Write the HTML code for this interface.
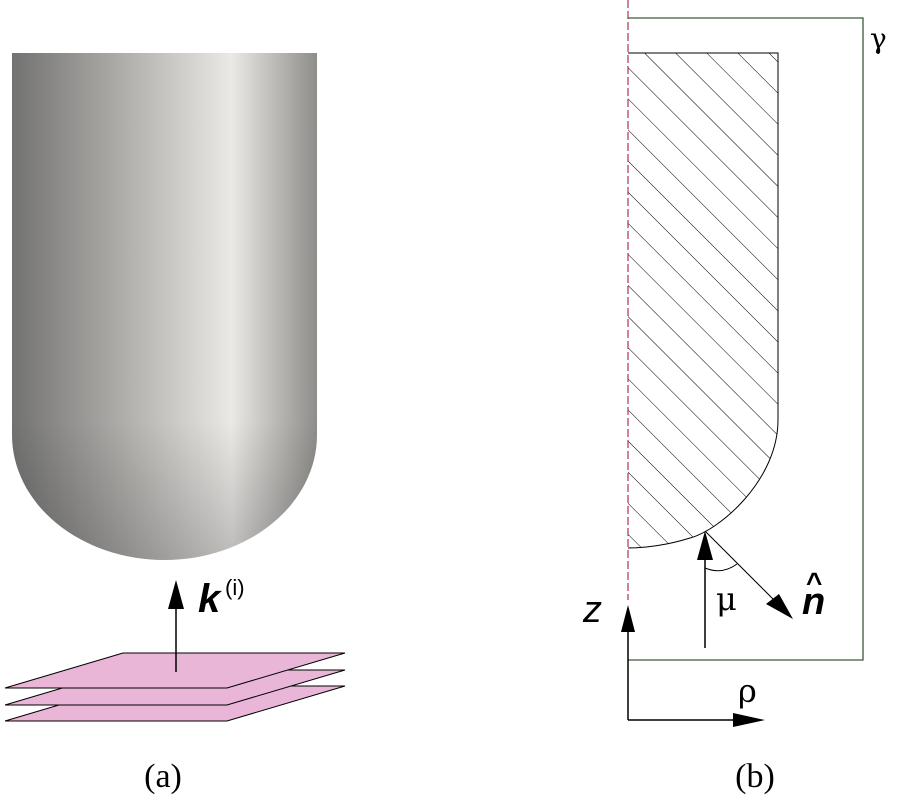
<!DOCTYPE html>
<html><head><style>body{margin:0;background:#fff}svg{display:block}</style></head><body>
<svg width="900" height="800" viewBox="0 0 900 800" xmlns="http://www.w3.org/2000/svg">
<defs>
<linearGradient id="g" x1="0" x2="1" y1="0" y2="0">
<stop offset="0" stop-color="#727272"/><stop offset="0.3" stop-color="#a5a3a0"/><stop offset="0.72" stop-color="#ebe9e6"/><stop offset="1" stop-color="#8f8d8a"/>
</linearGradient>
<linearGradient id="v" x1="0" x2="0" y1="0" y2="1">
<stop offset="0" stop-color="#000" stop-opacity="0"/><stop offset="1" stop-color="#000" stop-opacity="0.2"/>
</linearGradient>
<pattern id="h" width="22" height="22" patternUnits="userSpaceOnUse" patternTransform="rotate(-45)">
<line x1="0" y1="0" x2="0" y2="22" stroke="#000" stroke-width="1"/>
</pattern>
</defs>
<path d="M12 53 H317 V435 A152.5 125 0 0 1 12 435 Z" fill="url(#g)"/>
<path d="M12 420 H317 V435 A152.5 125 0 0 1 12 435 Z" fill="url(#v)"/>
<g fill="#eab6d8" stroke="#000" stroke-width="1">
<polygon points="5,721 227,721 345,686 123,686"/>
<polygon points="5,705 227,705 345,670 123,670"/>
<polygon points="5,688 227,688 345,653 123,653"/>
</g>
<line x1="176" y1="672" x2="176" y2="605" stroke="#000" stroke-width="1.5"/>
<polygon points="176,580 168,609 184,609" fill="#000"/>
<text x="198" y="612" font-family="Liberation Sans,sans-serif" font-weight="bold" font-style="italic" font-size="40">k</text>
<text x="225" y="595" font-family="Liberation Sans,sans-serif" font-size="22">(i)</text>
<text x="163" y="787" text-anchor="middle" font-family="Liberation Serif,serif" font-size="34">(a)</text>
<text x="755" y="787" text-anchor="middle" font-family="Liberation Serif,serif" font-size="34">(b)</text>
<path d="M628 53 H778 V420 C778 480 720 530 690 538 C668 545 645 548 628 548 Z" fill="url(#h)" stroke="none"/>
<path d="M628 53 H778 V420 C778 480 720 530 690 538 C668 545 645 548 628 548" fill="none" stroke="#000" stroke-width="1"/>
<line x1="628" y1="0" x2="628" y2="600" stroke="#b03050" stroke-width="1.2" stroke-dasharray="8,3"/>
<path d="M628 18 H863 V660 H628" fill="none" stroke="#3a5a3a" stroke-width="1.3"/>
<text x="870" y="48" font-family="DejaVu Serif,serif" font-size="28">γ</text>
<line x1="628" y1="720" x2="628" y2="630" stroke="#000" stroke-width="1.5"/>
<polygon points="628,605 621,632 635,632" fill="#000"/>
<line x1="628" y1="720" x2="745" y2="720" stroke="#000" stroke-width="1.5"/>
<polygon points="765,720 733,713 733,727" fill="#000"/>
<text x="583" y="622" font-family="Liberation Sans,sans-serif" font-style="italic" font-size="38">z</text>
<text x="738" y="702" font-family="DejaVu Serif,serif" font-size="32">ρ</text>
<line x1="705" y1="648" x2="705" y2="555" stroke="#000" stroke-width="1.5"/>
<polygon points="705,531 697,560 713,560" fill="#000"/>
<line x1="705" y1="531" x2="775" y2="601" stroke="#000" stroke-width="1"/>
<polygon points="793,619 766,604 779,594" fill="#000"/>
<path d="M705 568 Q722 575 737 564" fill="none" stroke="#000" stroke-width="1"/>
<text x="716" y="610" font-family="DejaVu Serif,serif" font-size="32">μ</text>
<text x="802" y="614" font-family="Liberation Sans,sans-serif" font-weight="bold" font-style="italic" font-size="38">n</text>
<text x="806" y="592" font-family="Liberation Sans,sans-serif" font-weight="bold" font-size="28">^</text>
</svg>
</body></html>
